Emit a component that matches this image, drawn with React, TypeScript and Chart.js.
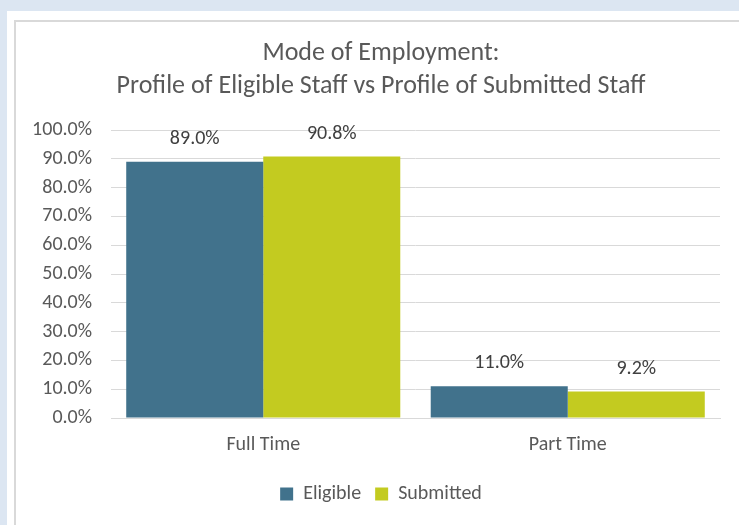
import React, { useEffect, useRef } from "react";
import { Chart, registerables } from "chart.js";

Chart.register(...registerables);

const categories = ["Full Time", "Part Time"];
const eligible = [89.0, 11.0];
const submitted = [90.8, 9.2];
const seriesNames = ["Eligible", "Submitted"];
const titleLines = ["Mode of Employment:", "Profile of Eligible Staff vs Profile of Submitted Staff"];

const FONT = "Calibri, Carlito, Lato, 'Noto Sans', sans-serif";

const dataLabels = {
  id: "dataLabels",
  beforeDraw(chart: any) {
    // let the y tick labels extend left of the axis box without being clipped
    if (chart.scales.y) chart.scales.y.left = 0;
  },
  afterDatasetsDraw(chart: any) {
    const ctx = chart.ctx;
    ctx.save();
    ctx.font = `20px ${FONT}`;
    ctx.fillStyle = "#404040";
    ctx.textAlign = "center";
    ctx.textBaseline = "middle";
    chart.data.datasets.forEach((ds: any, i: number) => {
      const meta = chart.getDatasetMeta(i);
      meta.data.forEach((bar: any, j: number) => {
        ctx.fillText(ds.data[j].toFixed(1) + "%", bar.x, bar.y - 23);
      });
    });
    ctx.restore();
  },
};

export default function App() {
  const ref = useRef<HTMLCanvasElement>(null);
  useEffect(() => {
    const chart = new Chart(ref.current!, {
      type: "bar",
      data: {
        labels: categories,
        datasets: [
          { label: seriesNames[0], data: eligible, backgroundColor: "#41728C", categoryPercentage: 0.9, barPercentage: 1.0 },
          { label: seriesNames[1], data: submitted, backgroundColor: "#C3CB20", categoryPercentage: 0.9, barPercentage: 1.0 },
        ],
      },
      options: {
        animation: false,
        responsive: false,
        maintainAspectRatio: false,
        layout: { padding: { left: 42, right: 19, top: 0, bottom: 11 } },
        plugins: {
          title: {
            display: true,
            text: titleLines,
            color: "#595959",
            font: { family: FONT, size: 26, weight: "normal", lineHeight: 1.27 },
            padding: { top: 37, bottom: 27 },
          },
          legend: {
            position: "bottom",
            labels: {
              color: "#595959",
              font: { family: FONT, size: 20 },
              boxWidth: 13,
              boxHeight: 13,
              padding: 14,
            },
          },
          tooltip: { enabled: false },
        },
        scales: {
          x: {
            afterFit: (s: any) => { s.height = 52; },
            grid: { display: false },
            border: { color: "#d9d9d9" },
            ticks: { color: "#595959", font: { family: FONT, size: 20 }, padding: 7 },
          },
          y: {
            min: 0,
            max: 100,
            afterFit: (s: any) => { s.width = 69; },
            grid: { color: "#d9d9d9", drawTicks: false },
            border: { display: false },
            ticks: {
              stepSize: 10,
              padding: 19,
              color: "#595959",
              font: { family: FONT, size: 20 },
              callback: (v: any) => Number(v).toFixed(1) + "%",
            },
          },
        },
      },
      plugins: [dataLabels],
    });
    return () => chart.destroy();
  }, []);

  return (
    <div style={{ position: "fixed", left: 0, top: 0, width: 739, height: 525, background: "#dce6f2", overflow: "hidden" }}>
      <div style={{ position: "absolute", left: 7, top: 11, right: 0, bottom: 0, background: "#ffffff" }} />
      <div style={{ position: "absolute", left: 14, top: 20, width: 760, height: 560, border: "2px solid #d9d9d9", boxSizing: "border-box" }} />
      <canvas ref={ref} width={739} height={525} style={{ position: "absolute", left: 0, top: 0 }} />
    </div>
  );
}
